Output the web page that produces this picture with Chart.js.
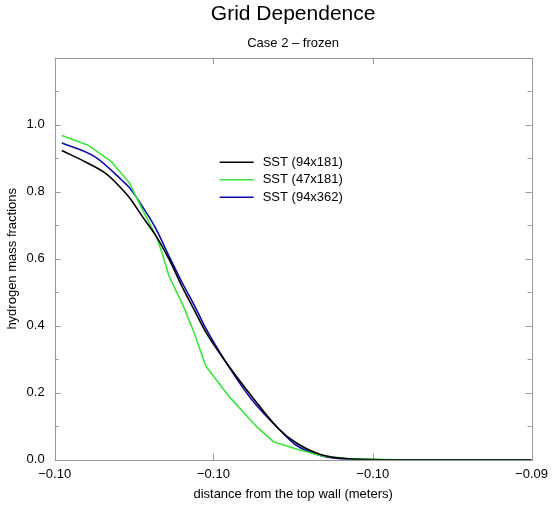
<!DOCTYPE html>
<html>
<head>
<meta charset="utf-8">
<script src="https://cdn.jsdelivr.net/npm/chart.js@4/dist/chart.umd.min.js"></script>
<style>
  html, body { margin: 0; padding: 0; background: #fff; }
  #wrap { width: 555px; height: 508px; }
</style>
</head>
<body>
<div id="wrap"><canvas id="chart" width="555" height="508"></canvas></div>
<script>
// Series (x = distance, y = hydrogen mass fraction)
const seriesNames = ['SST (94x181)', 'SST (47x181)', 'SST (94x362)'];

const blackX = [-0.09985, -0.09931, -0.09891, -0.09860, -0.09843, -0.09816, -0.09787, -0.09760,
  -0.09733, -0.09708, -0.09683, -0.09635, -0.09587, -0.09530, -0.09493, -0.09441, -0.09384, -0.09280, -0.09];
const blackY = [0.923, 0.886, 0.853, 0.810, 0.782, 0.726, 0.667, 0.598,
  0.518, 0.449, 0.381, 0.280, 0.190, 0.092, 0.050, 0.015, 0.003, 0, 0];

const greenX = [-0.09985, -0.09931, -0.09881, -0.09843, -0.09816, -0.09787, -0.09775, -0.09760,
  -0.09729, -0.09708, -0.09683, -0.09635, -0.09576, -0.09541, -0.09495, -0.09441, -0.09384, -0.09280, -0.09];
const greenY = [0.968, 0.940, 0.890, 0.826, 0.747, 0.667, 0.619, 0.548,
  0.455, 0.381, 0.280, 0.190, 0.098, 0.054, 0.033, 0.012, 0.003, 0, 0];

const blueX = [-0.09985, -0.09916, -0.09860, -0.09843, -0.09816, -0.09787, -0.09760, -0.09733,
  -0.09704, -0.09683, -0.09635, -0.09587, -0.09534, -0.09495, -0.09441, -0.09384, -0.09280, -0.09];
const blueY = [0.946, 0.905, 0.836, 0.812, 0.756, 0.688, 0.607, 0.530,
  0.452, 0.392, 0.278, 0.180, 0.098, 0.045, 0.012, 0.002, 0, 0];

const xTickValues = [-0.1, -0.09667, -0.09333, -0.09];
const xTickLabels = ['\u22120.10', '\u22120.10', '\u22120.10', '\u22120.09'];
const yTickLabels = ['0.0', '', '0.2', '', '0.4', '', '0.6', '', '0.8', '', '1.0', '', ''];

const FONT = '"Liberation Sans", Arial, Helvetica, sans-serif';

function pts(xs, ys) {
  return xs.map((v, i) => ({ x: v, y: ys[i] }));
}

// frame with inward tick marks, like the original plot
const framePlugin = {
  id: 'frame',
  beforeDatasetsDraw(chart) {
    const { ctx, chartArea: a, scales: { x, y } } = chart;
    ctx.save();
    ctx.strokeStyle = '#9a9a9a';
    ctx.lineWidth = 1;
    ctx.strokeRect(Math.round(a.left) + 0.5, Math.round(a.top) + 0.5,
      Math.round(a.right - a.left), Math.round(a.bottom - a.top));
    ctx.beginPath();
    x.ticks.forEach(t => {
      const px = Math.round(x.getPixelForValue(t.value)) + 0.5;
      ctx.moveTo(px, a.bottom); ctx.lineTo(px, a.bottom - 6);
      ctx.moveTo(px, a.top); ctx.lineTo(px, a.top + 6);
    });
    y.ticks.forEach((t, i) => {
      const py = Math.round(y.getPixelForValue(t.value)) + 0.5;
      const len = i % 2 === 0 ? 6 : 4;
      ctx.moveTo(a.left, py); ctx.lineTo(a.left + len, py);
      ctx.moveTo(a.right, py); ctx.lineTo(a.right - len, py);
    });
    ctx.stroke();
    ctx.restore();
  },
  afterDraw(chart) {
    // legend inside the plot
    const { ctx, chartArea: a } = chart;
    ctx.save();
    ctx.font = '13px ' + FONT;
    ctx.textBaseline = 'middle';
    ctx.fillStyle = '#000';
    chart.data.datasets.forEach((ds, i) => {
      const yy = a.top + 104.5 + i * 17.5;
      const x0 = a.left + 165;
      ctx.strokeStyle = ds.borderColor;
      ctx.lineWidth = 1.6;
      ctx.beginPath();
      ctx.moveTo(x0, yy); ctx.lineTo(x0 + 34, yy);
      ctx.stroke();
      ctx.fillText(ds.label, x0 + 43, yy);
    });
    ctx.restore();
  }
};

const ctx = document.getElementById('chart').getContext('2d');
const chart = new Chart(ctx, {
  type: 'line',
  data: {
    datasets: [
      { label: seriesNames[0], data: pts(blackX, blackY), borderColor: '#000000',
        borderWidth: 1.6, pointRadius: 0, cubicInterpolationMode: 'monotone' },
      { label: seriesNames[1], data: pts(greenX, greenY), borderColor: '#3ee43e',
        borderWidth: 1.6, pointRadius: 0, tension: 0 },
      { label: seriesNames[2], data: pts(blueX, blueY), borderColor: '#0c0ca8',
        borderWidth: 1.6, pointRadius: 0, cubicInterpolationMode: 'monotone' }
    ]
  },
  options: {
    responsive: false,
    animation: false,
    layout: { padding: { left: 5, right: 19, top: 2, bottom: 6 } },
    plugins: {
      legend: { display: false },
      tooltip: { enabled: false },
      title: {
        display: true, text: 'Grid Dependence', color: '#000', fullSize: false,
        font: { family: FONT, size: 21, weight: 'normal' }, padding: { top: 0, bottom: 6 }
      },
      subtitle: {
        display: true, text: 'Case 2 \u2013 frozen', color: '#000', fullSize: false,
        font: { family: FONT, size: 13, weight: 'normal' }, padding: { top: 2, bottom: 7 }
      }
    },
    scales: {
      x: {
        type: 'linear', min: -0.1, max: -0.09,
        afterBuildTicks: s => { s.ticks = xTickValues.map(v => ({ value: v })); },
        ticks: {
          color: '#000', font: { family: FONT, size: 13 }, padding: 7, maxRotation: 0,
          callback: (v, i) => xTickLabels[i]
        },
        grid: { display: false, drawTicks: false },
        border: { display: false },
        title: {
          display: true, text: 'distance from the top wall (meters)', color: '#000',
          font: { family: FONT, size: 13 }, padding: { top: -3, bottom: 0 }
        }
      },
      y: {
        min: 0, max: 1.2,
        ticks: {
          stepSize: 0.1, color: '#000', font: { family: FONT, size: 13 }, padding: 10,
          autoSkip: false, callback: (v, i) => yTickLabels[i]
        },
        grid: { display: false, drawTicks: false },
        border: { display: false },
        title: {
          display: true, text: 'hydrogen mass fractions', color: '#000',
          font: { family: FONT, size: 13 }, padding: { top: 0, bottom: -4 }
        }
      }
    }
  },
  plugins: [framePlugin]
});
</script>
</body>
</html>
